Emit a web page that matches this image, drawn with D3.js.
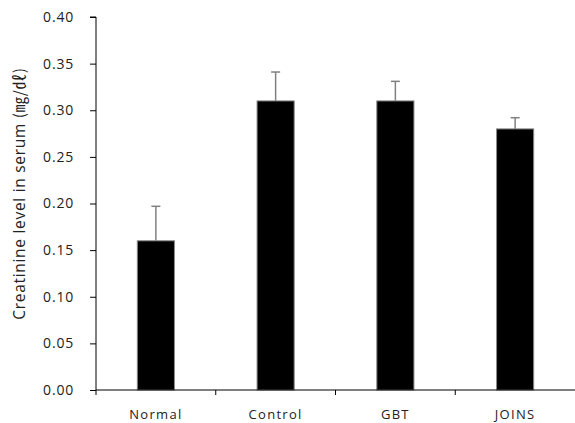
<!DOCTYPE html>
<html>
<head>
<meta charset="utf-8">
<script src="https://cdn.jsdelivr.net/npm/d3@7"></script>
<style>
  html, body { margin: 0; padding: 0; background: #fff; }
  svg { display: block; }
  text { font-family: "Open Sans", "DejaVu Sans", sans-serif; fill: #222; }
</style>
</head>
<body>
<script>
// Serum creatinine by treatment group (mean with SD error bars)
const groups = ["Normal", "Control", "GBT", "JOINS"];
const means = [0.16, 0.31, 0.31, 0.28];
const errors = [0.037, 0.031, 0.021, 0.012];
const yTicks = [0, 0.05, 0.10, 0.15, 0.20, 0.25, 0.30, 0.35, 0.40];
const yTitleMain = "Creatinine level in serum ";
const yTitleUnit = "(㎎/㎗)";

const W = 575, H = 423;
const margin = { left: 96, right: 0, top: 17, bottom: 33 };

const svg = d3.select("body").append("svg")
  .attr("width", W).attr("height", H);

const x = d3.scaleBand()
  .domain(groups)
  .range([margin.left, W - margin.right])
  .paddingInner(0.69).paddingOuter(0.345);

const y = d3.scaleLinear()
  .domain([0, 0.40])
  .range([H - margin.bottom, margin.top]);

const xBase = y(0);

// x-axis ticks at the band boundaries
const step = x.step();
const boundaries = d3.range(groups.length).map(i => margin.left + i * step);
svg.selectAll(".xtick").data(boundaries).enter().append("line")
  .attr("x1", d => d).attr("x2", d => d)
  .attr("y1", xBase).attr("y2", xBase + 5)
  .attr("stroke", "#000");

svg.selectAll(".xlabel").data(groups).enter().append("text")
  .attr("x", d => x(d) + x.bandwidth() / 2)
  .attr("y", xBase + 29)
  .attr("text-anchor", "middle")
  .attr("font-size", 13)
  .attr("letter-spacing", 1.3)
  .text(d => d);

// y axis
const yAxis = d3.axisLeft(y)
  .tickValues(yTicks)
  .tickFormat(d3.format(".2f"))
  .tickSize(6)
  .tickPadding(16);

const gy = svg.append("g")
  .attr("transform", `translate(${margin.left},0)`)
  .call(yAxis);
gy.select(".domain").attr("stroke", "#000").attr("d", `M-6,${y(0.40)}H0V${y(0)}`);
gy.selectAll(".tick line").attr("stroke", "#000");
gy.selectAll(".tick text")
  .attr("font-size", 14)
  .attr("letter-spacing", 0.8)
  .attr("fill", "#222")
  .style("font-family", "'Open Sans', 'DejaVu Sans', sans-serif");

const title = svg.append("text")
  .attr("transform", `translate(25,${(y(0) + y(0.40)) / 2 - 10}) rotate(-90)`)
  .attr("text-anchor", "middle")
  .attr("font-size", 15.5)
  .attr("letter-spacing", 0.7);
title.append("tspan").text(yTitleMain);
title.append("tspan")
  .style("font-family", "'Noto Sans CJK KR', 'Open Sans', sans-serif")
  .text(yTitleUnit);

// error bars (upper half only)
const data = groups.map((g, i) => ({ g, m: means[i], e: errors[i] }));
const eb = svg.selectAll(".err").data(data).enter().append("g");
eb.append("line")
  .attr("x1", d => x(d.g) + x.bandwidth() / 2)
  .attr("x2", d => x(d.g) + x.bandwidth() / 2)
  .attr("y1", d => y(d.m))
  .attr("y2", d => y(d.m + d.e))
  .attr("stroke", "#808080").attr("stroke-width", 1.5);
eb.append("line")
  .attr("x1", d => x(d.g) + x.bandwidth() / 2 - 4.5)
  .attr("x2", d => x(d.g) + x.bandwidth() / 2 + 4.5)
  .attr("y1", d => y(d.m + d.e))
  .attr("y2", d => y(d.m + d.e))
  .attr("stroke", "#808080").attr("stroke-width", 1.5);

// bars
svg.selectAll(".bar").data(data).enter().append("rect")
  .attr("x", d => x(d.g))
  .attr("y", d => y(d.m))
  .attr("width", x.bandwidth())
  .attr("height", d => y(0) - y(d.m))
  .attr("fill", "#000")
  .attr("stroke", "#888").attr("stroke-width", 1);

// baseline drawn over the bar outlines
svg.append("line")
  .attr("x1", margin.left).attr("x2", W)
  .attr("y1", xBase).attr("y2", xBase)
  .attr("stroke", "#000").attr("stroke-width", 1);
</script>
</body>
</html>
